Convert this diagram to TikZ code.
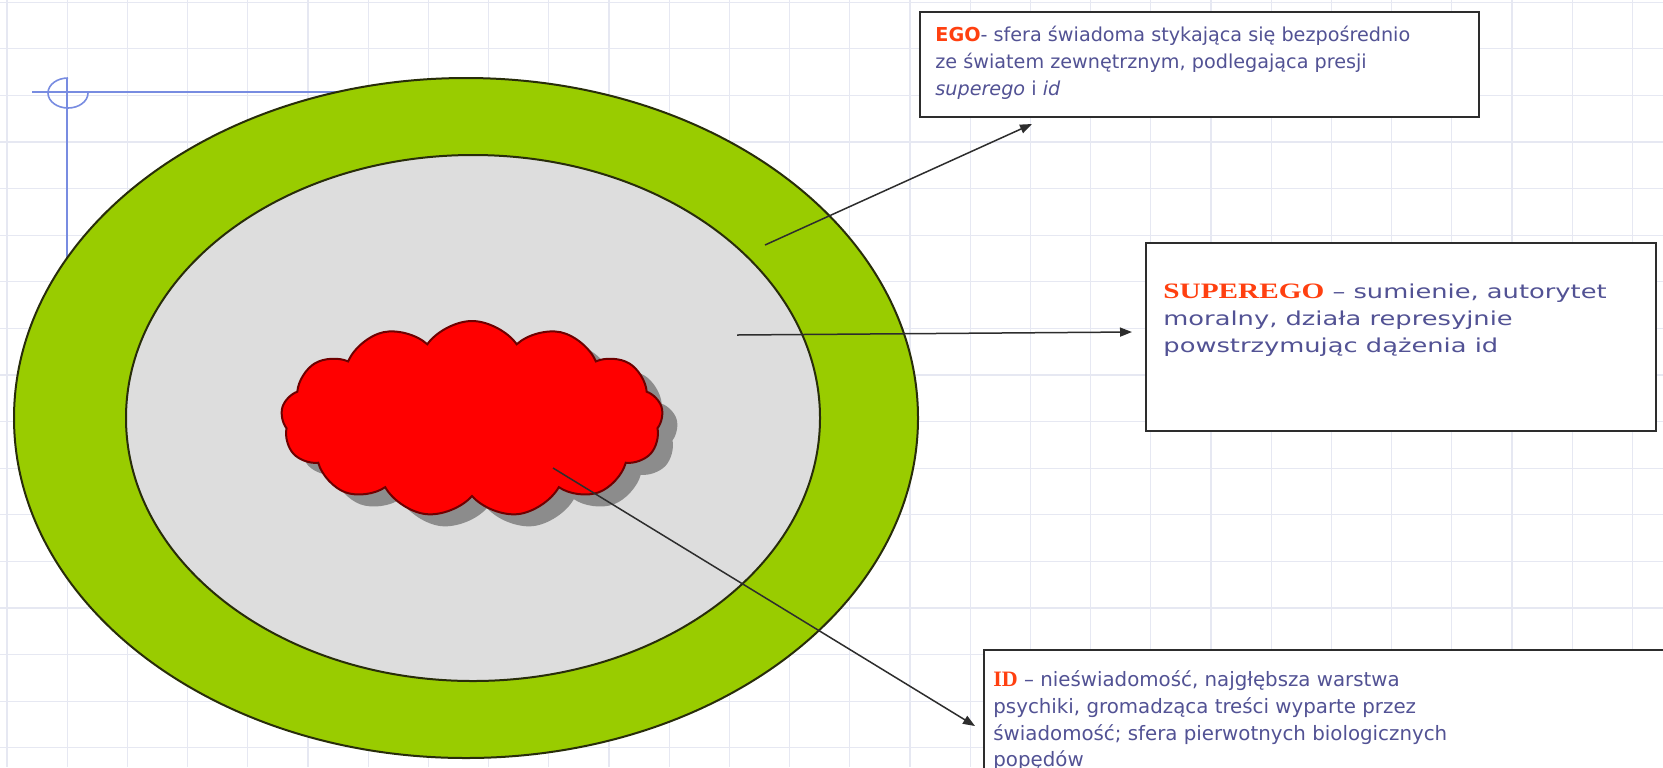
\documentclass[tikz,border=0pt]{standalone}
\usepackage{fontspec}
\setmainfont{DejaVu Sans}
\newfontfamily\serifbold{Liberation Serif Bold}
\newfontfamily\serifwide{Liberation Serif Bold}[FakeStretch=1.33]
\newfontfamily\sanswide{DejaVu Sans}[FakeStretch=1.34]
\usetikzlibrary{shapes.symbols,shapes.geometric,arrows.meta}
\definecolor{txt}{RGB}{82,82,148}
\definecolor{lab}{RGB}{255,64,16}
\definecolor{ring}{RGB}{153,204,0}
\definecolor{core}{RGB}{221,221,221}
\definecolor{edgec}{RGB}{40,45,10}
\definecolor{cloudred}{RGB}{255,0,0}
\definecolor{cloudline}{RGB}{110,0,0}
\definecolor{shadowgray}{RGB}{140,140,140}
\definecolor{gridc}{RGB}{230,232,242}
\definecolor{guide}{RGB}{120,140,225}
\definecolor{arr}{RGB}{45,45,45}
\newcommand{\firstline}{\rule{0pt}{10pt}}
\begin{document}
\begin{tikzpicture}[x=0.5pt,y=-0.5pt,
  textbox/.style={draw=arr, line width=1pt, fill=white, anchor=north west, inner sep=0pt},
  desc/.style={anchor=north west, align=left, inner sep=0pt, text=txt, font=\fontsize{9.6pt}{13.5pt}\selectfont},
  pointer/.style={draw=arr, line width=0.75pt, -{Triangle[length=6pt,width=4.5pt]}},
  guideline/.style={draw=guide, line width=0.8pt},
  puff/.style={cloud, cloud puffs=13, cloud puff arc=110, aspect=1.9, minimum width=191pt, minimum height=98pt, inner sep=0pt}]
\useasboundingbox (0,0) rectangle (1663,767);
\clip (0,0) rectangle (1663,767);
\fill[white] (0,0) rectangle (1663,767);
\foreach \i in {0,...,27} \draw[gridc, line width=0.6pt] ({7+60.2*\i},0) -- ({7+60.2*\i},767);
\foreach \j in {0,...,16} \draw[gridc, line width=0.6pt] (0,{2.2+46.6*\j}) -- (1663,{2.2+46.6*\j});
% guide lines
\draw[guideline] (32,92) -- (420,92);
\draw[guideline] (67,78) -- (67,330);
\draw[guideline] (68,78) arc[start angle=270, end angle=0, x radius=20, y radius=15];
% rings
\node[ellipse, draw=edgec, fill=ring, line width=1pt, minimum width=452pt, minimum height=340pt, inner sep=0pt] (ego) at (466,418) {};
\node[ellipse, draw=edgec, fill=core, line width=1pt, minimum width=347pt, minimum height=263pt, inner sep=0pt] (superego) at (473,418) {};
% cloud
\node[puff, fill=shadowgray] (idshadow) at (487,431) {};
\node[puff, fill=cloudred, draw=cloudline, line width=1pt] (id) at (472,419) {};
% boxes
\node[textbox, minimum width=279.5pt, minimum height=52.5pt] (egobox) at (919,11) {};
\node[textbox, minimum width=255pt, minimum height=94pt] (superegobox) at (1145,242) {};
\node[textbox, minimum width=360pt, minimum height=75pt] (idbox) at (983,649) {};
% texts
\node[desc] (egotext) at (935,21) {\firstline{\bfseries\color{lab}EGO}- sfera świadoma stykająca się bezpośrednio\\ze światem zewnętrznym, podlegająca presji\\\textit{superego} i \textit{id}};
\node[desc, font=\sanswide\fontsize{9.6pt}{13.5pt}\selectfont] (superegotext) at (1163,278) {\firstline{\serifwide\fontsize{11pt}{13.5pt}\selectfont\color{lab}SUPEREGO} – sumienie, autorytet\\moralny, działa represyjnie\\powstrzymując dążenia id};
\node[desc, font=\fontsize{9.9pt}{13.4pt}\selectfont] (idtext) at (993,666) {\firstline{\serifbold\fontsize{11pt}{13.4pt}\selectfont\color{lab}ID} – nieświadomość, najgłębsza warstwa\\psychiki, gromadząca treści wyparte przez\\świadomość; sfera pierwotnych biologicznych\\popędów};
% connectors
\coordinate (egostart) at (765,245);
\coordinate (egoend) at (1032,124);
\coordinate (superegostart) at (737,335);
\coordinate (superegoend) at (1132,332);
\coordinate (idstart) at (553,468);
\coordinate (idend) at (975,726);
\draw[pointer] (egostart) -- (egoend);
\draw[pointer] (superegostart) -- (superegoend);
\draw[pointer] (idstart) -- (idend);
\end{tikzpicture}
\end{document}
